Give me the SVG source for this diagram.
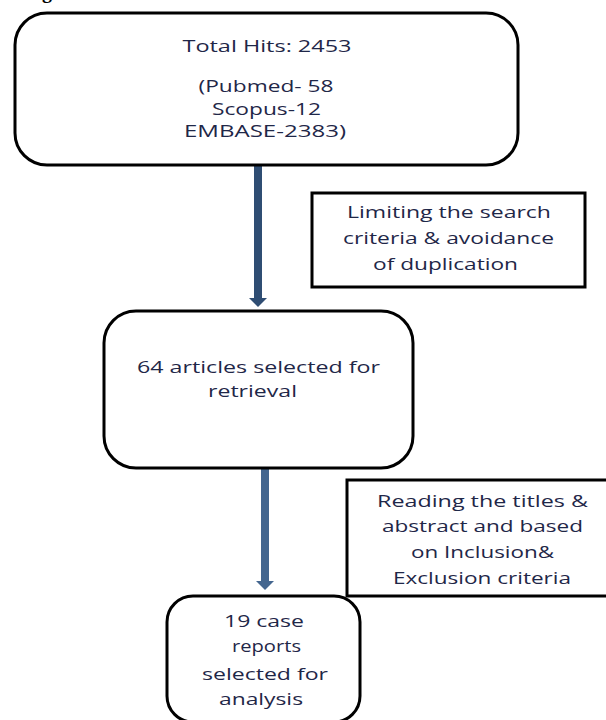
<svg xmlns="http://www.w3.org/2000/svg" width="606" height="720" viewBox="0 0 606 720">
  <style>
    .node { fill: #ffffff; stroke: #000000; stroke-width: 3; }
    .lbl { font-family: "Open Sans", "Liberation Sans", sans-serif; font-size: 17px; fill: #1f2748; text-anchor: middle; }
    .frag { font-family: "Liberation Serif", serif; font-weight: bold; font-size: 20px; fill: #000000; }
  </style>
  <defs>
    <marker id="head1" viewBox="0 0 18 9" refX="9" refY="0" markerWidth="18" markerHeight="9" markerUnits="userSpaceOnUse" orient="auto-start-reverse">
      <path d="M0 0 L18 0 L9 9 Z" fill="#2f4d73"/>
    </marker>
  </defs>
  <rect width="606" height="720" fill="#ffffff"/>
  <text class="frag" x="42" y="-2">g</text>

  <g id="connectors">
    <line x1="258" y1="166" x2="258" y2="299" stroke="#2f4d73" stroke-width="8"/>
    <path d="M249 298 L267 298 L258 307 Z" fill="#2f4d73"/>
    <line x1="265" y1="466" x2="265" y2="582" stroke="#44668f" stroke-width="8"/>
    <path d="M256 581 L274 581 L265 590 Z" fill="#44668f"/>
  </g>

  <g id="total-hits">
    <rect class="node" x="15" y="13" width="503" height="152" rx="32" ry="32"/>
    <text class="lbl" x="267" y="52" textLength="169" lengthAdjust="spacingAndGlyphs">Total Hits: 2453</text>
    <text class="lbl" x="266" y="92" textLength="135" lengthAdjust="spacingAndGlyphs">(Pubmed- 58</text>
    <text class="lbl" x="266.5" y="115" textLength="109" lengthAdjust="spacingAndGlyphs">Scopus-12</text>
    <text class="lbl" x="265" y="137" textLength="162" lengthAdjust="spacingAndGlyphs">EMBASE-2383)</text>
  </g>

  <g id="limiting">
    <rect class="node" x="312" y="193" width="273" height="94"/>
    <text class="lbl" x="449" y="218" textLength="204" lengthAdjust="spacingAndGlyphs">Limiting the search</text>
    <text class="lbl" x="448.5" y="244" textLength="211" lengthAdjust="spacingAndGlyphs">criteria &amp; avoidance</text>
    <text class="lbl" x="445.5" y="270" textLength="145" lengthAdjust="spacingAndGlyphs">of duplication</text>
  </g>

  <g id="articles">
    <rect class="node" x="104" y="311" width="309" height="157" rx="32" ry="32"/>
    <text class="lbl" x="258.5" y="373" textLength="243" lengthAdjust="spacingAndGlyphs">64 articles selected for</text>
    <text class="lbl" x="252.5" y="397" textLength="89" lengthAdjust="spacingAndGlyphs">retrieval</text>
  </g>

  <g id="reading">
    <rect class="node" x="347" y="480" width="270" height="116"/>
    <text class="lbl" x="482.5" y="507" textLength="211" lengthAdjust="spacingAndGlyphs">Reading the titles &amp;</text>
    <text class="lbl" x="482.5" y="532" textLength="201" lengthAdjust="spacingAndGlyphs">abstract and based</text>
    <text class="lbl" x="482.5" y="558" textLength="143" lengthAdjust="spacingAndGlyphs">on Inclusion&amp;</text>
    <text class="lbl" x="482" y="584" textLength="178" lengthAdjust="spacingAndGlyphs">Exclusion criteria</text>
  </g>

  <g id="case-reports">
    <rect class="node" x="167" y="596" width="193" height="126" rx="26" ry="26"/>
    <text class="lbl" x="264" y="627" textLength="80" lengthAdjust="spacingAndGlyphs">19 case</text>
    <text class="lbl" x="266.5" y="652" textLength="69" lengthAdjust="spacingAndGlyphs">reports</text>
    <text class="lbl" x="265" y="680" textLength="126" lengthAdjust="spacingAndGlyphs">selected for</text>
    <text class="lbl" x="261" y="705" textLength="84" lengthAdjust="spacingAndGlyphs">analysis</text>
  </g>
</svg>
